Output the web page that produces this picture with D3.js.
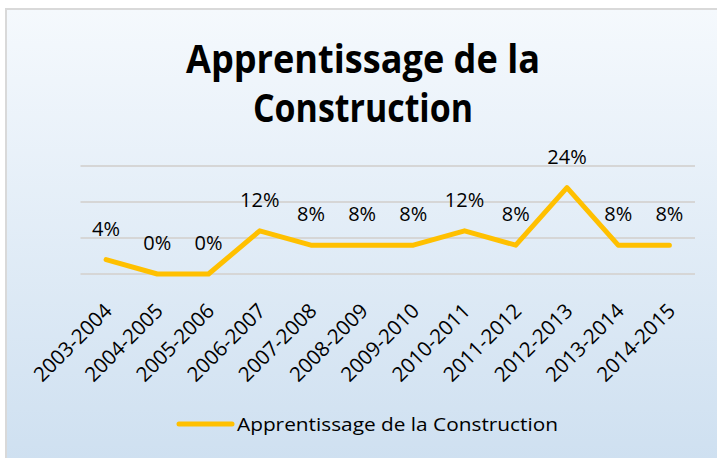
<!DOCTYPE html>
<html>
<head>
<meta charset="utf-8">
<script src="https://cdnjs.cloudflare.com/ajax/libs/d3/7.8.5/d3.min.js"></script>
<style>
  body { margin: 0; background: #ffffff; }
  text { font-family: "Open Sans", "Noto Sans", sans-serif; fill: #000000; }
</style>
</head>
<body>
<div class="chart"></div>
<script>
var years = ['2003-2004', '2004-2005', '2005-2006', '2006-2007', '2007-2008', '2008-2009',
  '2009-2010', '2010-2011', '2011-2012', '2012-2013', '2013-2014', '2014-2015'];
var values = [0.04, 0, 0, 0.12, 0.08, 0.08, 0.08, 0.12, 0.08, 0.24, 0.08, 0.08];
var gridTicks = [0, 0.1, 0.2, 0.3];
var seriesName = 'Apprentissage de la Construction';
var titleLines = ['Apprentissage de la', 'Construction'];

var width = 717, height = 458;
var plot = {left: 80.5, right: 695, top: 166, bottom: 274};

var svg = d3.select('.chart')
  .append('svg')
	.attr('width', width)
	.attr('height', height);

// background gradient like the office chart area
var grad = svg.append('defs').append('linearGradient')
	.attr('id', 'bg')
	.attr('x1', 0).attr('y1', 0).attr('x2', 0).attr('y2', 1);
grad.append('stop').attr('offset', '0%').attr('stop-color', '#f5f9fd');
grad.append('stop').attr('offset', '100%').attr('stop-color', '#cddff0');

svg.append('rect')
	.attr('x', 6).attr('y', 9)
	.attr('width', 730).attr('height', 470)
	.attr('fill', 'url(#bg)')
	.attr('stroke', '#d9d9d9')
	.attr('stroke-width', 2);

// title, two lines
svg.append('g')
  .selectAll('text')
	.data(titleLines)
	.enter()
	.append('text')
	.attr('x', 363)
	.attr('y', (d, i) => 73 + i * 49)
	.attr('text-anchor', 'middle')
	.attr('font-size', 39)
	.attr('font-weight', 'bold')
	.attr('textLength', (d, i) => i == 0 ? 354 : 220)
	.attr('lengthAdjust', 'spacingAndGlyphs')
	.text(d => d);

var xScale = d3.scaleBand()
	.domain(years)
	.range([plot.left, plot.right]);

var yScale = d3.scaleLinear()
	.domain([0, 0.3])
	.range([plot.bottom, plot.top]);

var cx = d => xScale(d) + xScale.bandwidth() / 2;

// horizontal gridlines
svg.append('g')
  .selectAll('line')
	.data(gridTicks)
	.enter()
	.append('line')
	.attr('x1', plot.left)
	.attr('x2', plot.right)
	.attr('y1', d => yScale(d))
	.attr('y2', d => yScale(d))
	.attr('stroke', '#d6d6d6')
	.attr('stroke-width', 2);

// category labels, rotated
var xAxis = svg.append('g')
	.attr('transform', `translate(0, ${plot.bottom})`)
	.call(d3.axisBottom(xScale).tickSize(0).tickPadding(0));
xAxis.select('.domain').remove();
xAxis.selectAll('text')
	.attr('font-family', '"Open Sans", sans-serif')
	.attr('font-size', 20.5)
	.attr('fill', '#000')
	.attr('text-anchor', 'end')
	.attr('dy', '0.35em')
	.attr('transform', 'translate(2, 33) rotate(-45)');

var line = d3.line()
	.x((d, i) => cx(years[i]))
	.y(d => yScale(d));

svg.append('path')
	.datum(values)
	.attr('d', line)
	.attr('fill', 'none')
	.attr('stroke', '#ffc000')
	.attr('stroke-width', 5)
	.attr('stroke-linejoin', 'round')
	.attr('stroke-linecap', 'round');

// data labels
svg.append('g')
  .selectAll('text')
	.data(values)
	.enter()
	.append('text')
	.attr('x', (d, i) => cx(years[i]))
	.attr('y', d => yScale(d) - 24)
	.attr('text-anchor', 'middle')
	.attr('font-size', 20)
	.text(d => d3.format('.0%')(d));

// legend
var legend = svg.append('g');
legend.append('line')
	.attr('x1', 179).attr('x2', 232)
	.attr('y1', 424).attr('y2', 424)
	.attr('stroke', '#ffc000')
	.attr('stroke-width', 5)
	.attr('stroke-linecap', 'round');
legend.append('text')
	.attr('x', 237)
	.attr('y', 431)
	.attr('font-size', 19)
	.attr('textLength', 321)
	.attr('lengthAdjust', 'spacingAndGlyphs')
	.text(seriesName);
</script>
</body>
</html>
